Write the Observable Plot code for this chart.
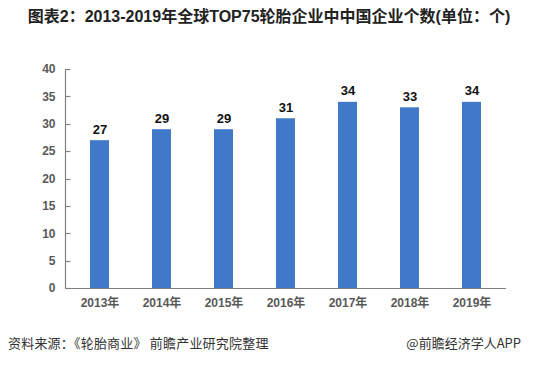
<!DOCTYPE html>
<html>
<head>
<meta charset="utf-8">
<script src="https://cdn.jsdelivr.net/npm/d3@7"></script>
<script src="https://cdn.jsdelivr.net/npm/@observablehq/plot@0.6"></script>
<style>
  html, body { margin: 0; padding: 0; background: #fff; }
  body { width: 536px; height: 366px; overflow: hidden; font-family: "Liberation Sans", "Noto Sans CJK SC", sans-serif; }
  #title { height: 36px; line-height: 34px; text-align: center; font-weight: bold; font-size: 16px; color: #222; font-family: "Liberation Sans", "Noto Sans CJK SC", sans-serif; padding-left: 2px; }
  #footer { position: relative; height: 30px; font-size: 13px; color: #333; font-family: "Noto Sans CJK SC", sans-serif; }
  #footer .l { position: absolute; left: 8px; top: 7px; letter-spacing: 0.2px; }
  #footer .r { position: absolute; right: 15px; top: 7px; }
  svg { display: block; }
</style>
</head>
<body>
<div id="title">图表2：2013-2019年全球TOP75轮胎企业中中国企业个数(单位：个)</div>
<div id="chart"></div>
<div id="footer"><span class="l">资料来源：《轮胎商业》 前瞻产业研究院整理</span><span class="r">@前瞻经济学人APP</span></div>
<script>
const years = ["2013年", "2014年", "2015年", "2016年", "2017年", "2018年", "2019年"];
const counts = [27, 29, 29, 31, 34, 33, 34];
const yTicks = [0, 5, 10, 15, 20, 25, 30, 35, 40];

const data = years.map((year, i) => ({year, count: counts[i]}));

// left axis line with inward tick marks, positioned by the y scale
const leftAxis = (index, scales, values, dims) => {
  const g = d3.create("svg:g").attr("stroke", "#808080").attr("stroke-width", 1.2);
  const x0 = dims.marginLeft + 0.5;
  g.append("line")
    .attr("x1", x0).attr("x2", x0)
    .attr("y1", scales.y(40)).attr("y2", scales.y(0));
  for (const t of yTicks) {
    const yy = Math.round(scales.y(t)) + 0.5;
    g.append("line").attr("x1", x0).attr("x2", x0 + 5).attr("y1", yy).attr("y2", yy);
  }
  return g.node();
};

const chart = Plot.plot({
  width: 536,
  height: 290,
  marginLeft: 65,
  marginRight: 30,
  marginTop: 33,
  marginBottom: 38,
  style: {fontFamily: "'Liberation Sans', 'Noto Sans CJK SC', sans-serif", background: "#fff"},
  x: {domain: years, paddingInner: 0.69, paddingOuter: 0.35, label: null},
  y: {domain: [0, 40], label: null},
  marks: [
    Plot.barY(data, {x: "year", y: "count", fill: "#4079C8"}),
    Plot.text(data, {x: "year", y: "count", text: d => String(d.count), dy: -7, lineAnchor: "bottom", fontWeight: "bold", fontSize: 13, fill: "#111"}),
    Plot.ruleY([0], {stroke: "#808080", strokeWidth: 1.2}),
    leftAxis,
    Plot.axisY({ticks: yTicks, tickSize: 0, tickPadding: 10, fontSize: 12, fontWeight: "bold", fill: "#595959", label: null}),
    Plot.axisX({tickSize: 0, tickPadding: 10, fontSize: 12, fontWeight: "bold", fill: "#595959", label: null})
  ]
});
document.getElementById("chart").appendChild(chart);
</script>
</body>
</html>
